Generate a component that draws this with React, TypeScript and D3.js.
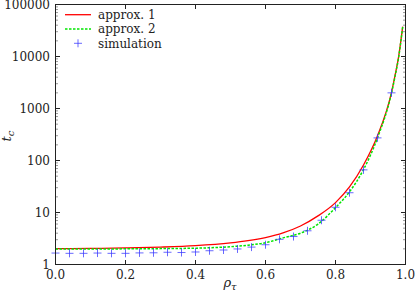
import React from 'react';
import * as d3 from 'd3';

// ---- data ----
const xTickValues = [0, 0.2, 0.4, 0.6, 0.8, 1.0];
const xTickLabels = ['0.0', '0.2', '0.4', '0.6', '0.8', '1.0'];
const yTickValues = [1, 10, 100, 1000, 10000, 100000];
const yTickLabels = ['1', '10', '100', '1000', '10000', '100000'];

const approx1Rho = [0, 0.1, 0.2, 0.3, 0.4, 0.5, 0.55, 0.6, 0.65, 0.7, 0.75, 0.8, 0.84, 0.88, 0.92, 0.96, 0.97, 0.98, 0.992];
const approx1Tc = [2.02, 2.04, 2.08, 2.16, 2.3, 2.6, 2.87, 3.3, 4.05, 5.5, 8.6, 15.5, 31, 82, 300, 2050, 4300, 9600, 37500];

const approx2Rho = [0, 0.1, 0.2, 0.3, 0.4, 0.5, 0.55, 0.6, 0.65, 0.7, 0.75, 0.8, 0.84, 0.88, 0.92, 0.96, 0.97, 0.98, 0.992];
const approx2Tc = [1.99, 1.99, 2.0, 2.02, 2.06, 2.2, 2.35, 2.62, 3.25, 4.0, 6.0, 12.4, 25, 67, 272, 1980, 4100, 9300, 37500];

const simRho = [0, 0.04, 0.08, 0.12, 0.16, 0.2, 0.24, 0.28, 0.32, 0.36, 0.4, 0.44, 0.48, 0.52, 0.56, 0.6, 0.64, 0.68, 0.72, 0.76, 0.8, 0.84, 0.88, 0.92, 0.96];
const simTc = [1.66, 1.64, 1.64, 1.66, 1.64, 1.64, 1.67, 1.68, 1.72, 1.7, 1.74, 1.84, 1.9, 1.99, 2.16, 2.4, 3.05, 3.45, 4.45, 7.1, 12.6, 24, 66, 272, 2000];

const legendLabels = ['approx. 1', 'approx. 2', 'simulation'];

const W = 415;
const H = 291;
const FONT = 'DejaVu Serif';
const txt = { fontFamily: FONT } as React.CSSProperties;
const FS = 12;

export default function App() {
  const x = d3.scaleLinear().domain([0, 1]).range([55.5, 405.5]);
  const y = d3.scaleLog().domain([1, 100000]).range([264.5, 4.5]);
  const [x0, x1] = x.range();
  const [yB, yT] = y.range();

  const line = d3
    .line<[number, number]>()
    .x((d) => x(d[0]))
    .y((d) => y(d[1]))
    .curve(d3.curveMonotoneX);

  const a1 = approx1Rho.map((r, i) => [r, approx1Tc[i]] as [number, number]);
  const a2 = approx2Rho.map((r, i) => [r, approx2Tc[i]] as [number, number]);

  const minorY: number[] = [];
  for (let d = 1; d < 100000; d *= 10) {
    for (let k = 2; k <= 9; k++) minorY.push(d * k);
  }

  const majLen = 4.5;
  const minLen = 2.5;

  return (
    <svg
      width={W}
      height={H}
      style={{ position: 'absolute', left: 0, top: 0, background: '#fff' }}
    >
      <rect x={0} y={0} width={W} height={H} fill="#fff" />

      {minorY.map((v, i) => (
        <g key={'my' + i} stroke="#555" strokeWidth={0.6}>
          <line x1={x0} x2={x0 + minLen} y1={y(v)} y2={y(v)} />
          <line x1={x1} x2={x1 - minLen} y1={y(v)} y2={y(v)} />
        </g>
      ))}
      {yTickValues.map((v, i) => (
        <g key={'yt' + i}>
          <line x1={x0} x2={x0 + majLen} y1={y(v)} y2={y(v)} stroke="#222" strokeWidth={1} />
          <line x1={x1} x2={x1 - majLen} y1={y(v)} y2={y(v)} stroke="#222" strokeWidth={1} />
          <text x={50} y={y(v)} dy="0.36em" textAnchor="end" fontSize={FS} fill="#222" style={txt}>
            {yTickLabels[i]}
          </text>
        </g>
      ))}
      {xTickValues.map((v, i) => (
        <g key={'xt' + i}>
          <line x1={x(v)} x2={x(v)} y1={yB} y2={yB - majLen} stroke="#222" strokeWidth={1} />
          <line x1={x(v)} x2={x(v)} y1={yT} y2={yT + majLen} stroke="#222" strokeWidth={1} />
          <text x={x(v)} y={278.5} textAnchor="middle" fontSize={FS} fill="#222" style={txt}>
            {xTickLabels[i]}
          </text>
        </g>
      ))}

      <path d={line(a1) || ''} fill="none" stroke="#ff0000" strokeWidth={1.3} />
      <path d={line(a2) || ''} fill="none" stroke="#00e600" strokeWidth={1.5} strokeDasharray="2.5,1.5" />

      {simRho.map((r, i) => {
        const cx = x(r);
        const cy = y(simTc[i]);
        return (
          <path
            key={'s' + i}
            d={`M${cx - 4},${cy}H${cx + 4}M${cx},${cy - 4}V${cy + 4}`}
            stroke="#3a3aff"
            strokeWidth={0.9}
            strokeOpacity={0.85}
            fill="none"
          />
        );
      })}

      <rect x={x0} y={yT} width={x1 - x0} height={yB - yT} fill="none" stroke="#222" strokeWidth={1} />

      <g fontSize={FS} fill="#222">
        <line x1={65} x2={91} y1={14.7} y2={14.7} stroke="#ff0000" strokeWidth={1.3} />
        <text x={98} y={14.7} dy="0.36em" style={txt}>{legendLabels[0]}</text>
        <line x1={65} x2={91} y1={29} y2={29} stroke="#00e600" strokeWidth={1.5} strokeDasharray="2.5,1.5" />
        <text x={98} y={29} dy="0.36em" style={txt}>{legendLabels[1]}</text>
        <path d={`M${78 - 4},43.3H${78 + 4}M78,${43.3 - 4}V${43.3 + 4}`} stroke="#3a3aff" strokeWidth={0.9} strokeOpacity={0.85} />
        <text x={98} y={43.3} dy="0.36em" style={txt}>{legendLabels[2]}</text>
      </g>

      <text x={230} y={287} textAnchor="middle" fontSize={13} fill="#222" fontStyle="italic" style={txt}>
        ρ<tspan fontSize={10} dy={2.5}>τ</tspan>
      </text>
      <text transform="translate(11,136) rotate(-90)" textAnchor="middle" fontSize={13} fill="#222" fontStyle="italic" style={txt}>
        t<tspan fontSize={10} dy={2.5}>c</tspan>
      </text>
    </svg>
  );
}
